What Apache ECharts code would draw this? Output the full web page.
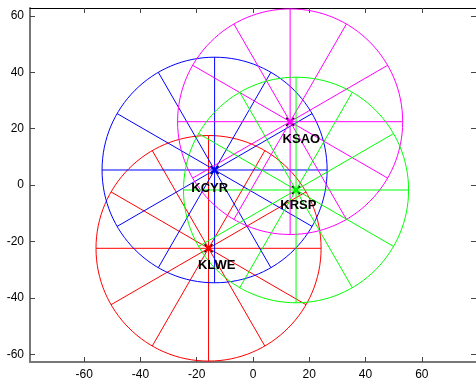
<!DOCTYPE html>
<html><head><meta charset="utf-8">
<script src="https://cdn.jsdelivr.net/npm/echarts@6/dist/echarts.min.js"></script>
<style>html,body{margin:0;padding:0;background:#fff}#c{width:476px;height:383px}</style>
</head><body><div id="c"></div>
<script>
// ---- data ----
const stations = ['KLWE', 'KCYR', 'KSAO', 'KRSP'];
const centerX = [-15.8, -13.65, 13.2, 15.3];
const centerY = [-22.45, 5.32, 22.45, -1.77];
const ringRadius = [40, 40, 40, 40];
const labelX = [-12.9, -15.4, 17.2, 16.1];
const labelY = [-28.4, -1.06, 16.2, -7.4];
const spokeAngles = [0, 30, 60, 90, 120, 150, 180, 210, 240, 270, 300, 330];
const xTicks = [-60, -40, -20, 0, 20, 40, 60];
const yTicks = [-60, -40, -20, 0, 20, 40, 60];
const colors = ['#ff0000', '#0000ff', '#ff00ff', '#00ff00'];

const ringData = stations.map((s, i) => [centerX[i], centerY[i], ringRadius[i], i]);
const labelData = stations.map((s, i) => [labelX[i], labelY[i], i]);

const chart = echarts.init(document.getElementById('c'), null, {renderer: 'canvas'});

function baseAxis(extra) {
  return Object.assign({
    type: 'value',
    splitLine: {show: false},
    axisLine: {show: true, onZero: false, lineStyle: {color: '#777', width: 2}},
    axisTick: {show: true, inside: true, length: 5, lineStyle: {color: '#444', width: 1}},
    axisLabel: {show: true, color: '#000', fontSize: 12, fontFamily: 'Liberation Sans', margin: 6}
  }, extra);
}

const XMIN = -79.26, XMAX = 79.26, YMIN = -62.77, YMAX = 62.77;

const option = {
  backgroundColor: '#fff',
  animation: false,
  grid: {left: 30, top: 8, width: 447, height: 354, containLabel: false},
  xAxis: [
    baseAxis({min: XMIN, max: XMAX, position: 'bottom',
      axisTick: {show: true, inside: true, length: 5, customValues: xTicks, lineStyle: {color: '#444'}},
      axisLabel: {customValues: xTicks, color: '#000', fontSize: 12, fontFamily: 'Liberation Sans', margin: 7}}),
    baseAxis({min: XMIN, max: XMAX, position: 'top',
      axisLine: {show: true, onZero: false, lineStyle: {color: '#000', width: 1}},
      axisTick: {show: true, inside: true, length: 5, customValues: xTicks, lineStyle: {color: '#444'}},
      axisLabel: {show: false}})
  ],
  yAxis: [
    baseAxis({min: YMIN, max: YMAX, position: 'left',
      axisTick: {show: true, inside: true, length: 5, customValues: yTicks, lineStyle: {color: '#444'}},
      axisLabel: {customValues: yTicks, color: '#000', fontSize: 12, fontFamily: 'Liberation Sans', margin: 6}}),
    baseAxis({min: YMIN, max: YMAX, position: 'right',
      axisLine: {show: true, onZero: false, lineStyle: {color: '#000', width: 1}},
      axisTick: {show: true, inside: true, length: 5, customValues: yTicks, lineStyle: {color: '#444'}},
      axisLabel: {show: false}})
  ],
  series: [
    {
      type: 'custom',
      xAxisIndex: 0, yAxisIndex: 0,
      data: ringData,
      renderItem: function (params, api) {
        const cx = api.value(0), cy = api.value(1), r = api.value(2), idx = api.value(3);
        const c = api.coord([cx, cy]);
        const rx = api.size([r, 0])[0];
        const ry = api.size([0, r])[1];
        const col = colors[idx];
        const children = [{
          type: 'ellipse',
          shape: {cx: c[0], cy: c[1], rx: rx, ry: ry},
          style: {fill: 'none', stroke: col, lineWidth: 1}
        }];
        spokeAngles.forEach(function (a) {
          const t = a * Math.PI / 180;
          const e = api.coord([cx + r * Math.cos(t), cy + r * Math.sin(t)]);
          children.push({
            type: 'line',
            shape: {x1: c[0], y1: c[1], x2: e[0], y2: e[1]},
            style: {stroke: col, lineWidth: 1}
          });
        });
        const cs = params.coordSys;
        return {
          type: 'group',
          clipPath: {type: 'rect', shape: {x: cs.x, y: cs.y, width: cs.width, height: cs.height}},
          children: children
        };
      },
      z: 2
    },
    {
      type: 'custom',
      xAxisIndex: 0, yAxisIndex: 0,
      data: ringData,
      renderItem: function (params, api) {
        const c = api.coord([api.value(0), api.value(1)]);
        const col = colors[api.value(3)];
        const s = 4, s2 = 2.5;
        return {
          type: 'group',
          children: [
            {type: 'line', shape: {x1: c[0] - s, y1: c[1] - s, x2: c[0] + s, y2: c[1] + s}, style: {stroke: '#000', lineWidth: 1.5}},
            {type: 'line', shape: {x1: c[0] - s, y1: c[1] + s, x2: c[0] + s, y2: c[1] - s}, style: {stroke: '#000', lineWidth: 1.5}},
            {type: 'line', shape: {x1: c[0] - s2, y1: c[1] - s2, x2: c[0] + s2, y2: c[1] + s2}, style: {stroke: col, lineWidth: 2}},
            {type: 'line', shape: {x1: c[0] - s2, y1: c[1] + s2, x2: c[0] + s2, y2: c[1] - s2}, style: {stroke: col, lineWidth: 2}}
          ]
        };
      },
      z: 3
    },
    {
      type: 'custom',
      xAxisIndex: 0, yAxisIndex: 0,
      data: labelData,
      renderItem: function (params, api) {
        const p = api.coord([api.value(0), api.value(1)]);
        return {
          type: 'text',
          style: {
            text: stations[api.value(2)],
            x: p[0], y: p[1],
            align: 'center', verticalAlign: 'middle',
            font: 'bold 13px "Liberation Sans", Arial, sans-serif',
            fill: '#000'
          }
        };
      },
      z: 4
    }
  ]
};
chart.setOption(option);
</script>
</body></html>
